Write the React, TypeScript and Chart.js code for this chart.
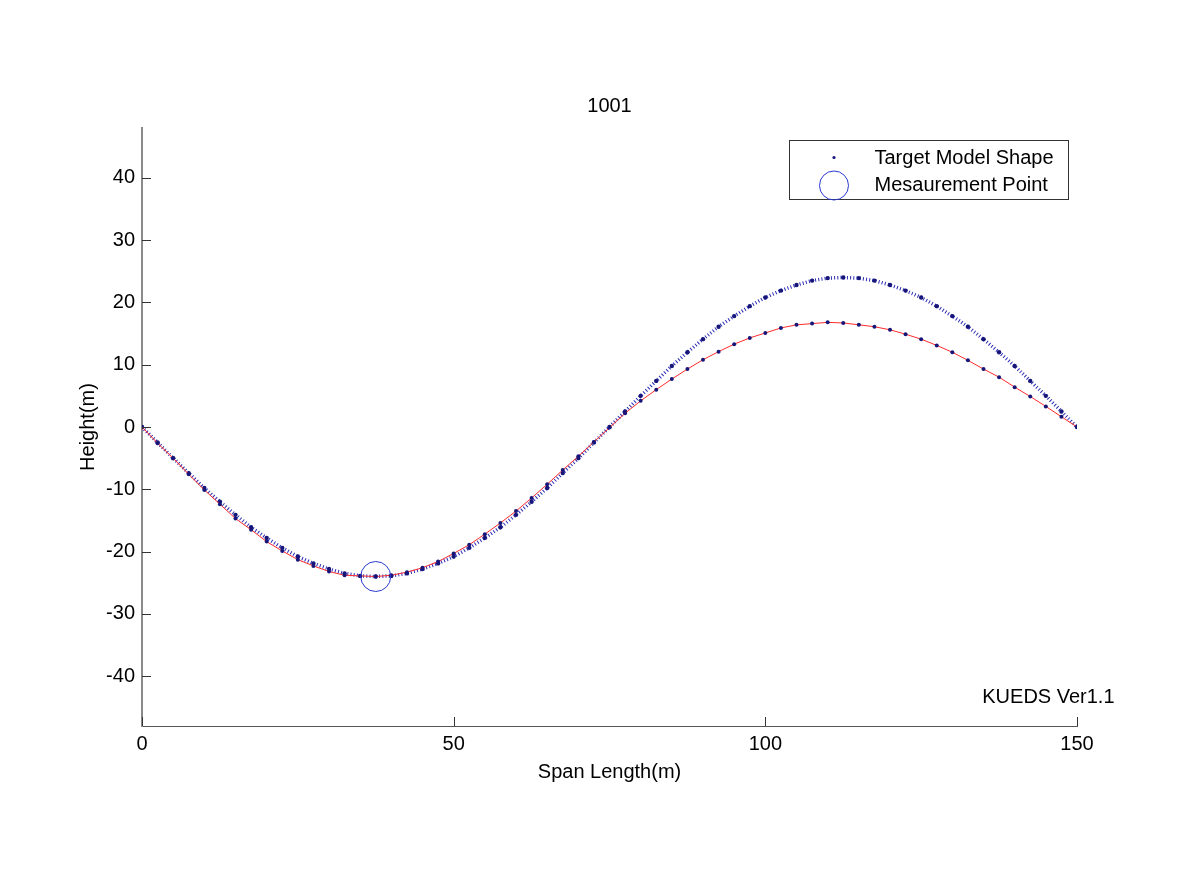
import React, { useEffect, useRef } from 'react';
import { Chart, registerables } from 'chart.js';

Chart.register(...registerables);

// ---- data ----
const spanPositions = [
  0, 2.5, 5, 7.5, 10, 12.5, 15, 17.5, 20, 22.5, 25, 27.5, 30, 32.5, 35, 37.5, 40, 42.5, 45, 47.5,
  50, 52.5, 55, 57.5, 60, 62.5, 65, 67.5, 70, 72.5, 75, 77.5, 80, 82.5, 85, 87.5, 90, 92.5, 95, 97.5,
  100, 102.5, 105, 107.5, 110, 112.5, 115, 117.5, 120, 122.5, 125, 127.5, 130, 132.5, 135, 137.5, 140, 142.5, 145, 147.5, 150,
];

// red solid curve (model shape)
const modelHeights = [
  0, -2.6, -5.0, -7.6, -10.1, -12.4, -14.7, -16.5, -18.4, -19.9, -21.3, -22.3, -23.2, -23.8, -23.9, -24.0, -23.8, -23.3, -22.6, -21.6,
  -20.3, -18.9, -17.2, -15.4, -13.5, -11.4, -9.2, -6.9, -4.7, -2.4, -0.1, 2.2, 4.2, 6.0, 7.7, 9.3, 10.8, 12.1, 13.3, 14.3,
  15.1, 15.9, 16.4, 16.6, 16.8, 16.7, 16.4, 16.1, 15.6, 14.9, 14.1, 13.1, 12.0, 10.7, 9.3, 8.0, 6.4, 4.9, 3.3, 1.65, 0,
];

// blue dotted curve (target shape)
const targetHeights = [
  0, -2.5, -5.0, -7.4, -9.8, -12.0, -14.1, -16.1, -17.8, -19.4, -20.8, -21.9, -22.8, -23.5, -23.9, -24.0, -23.9, -23.5, -22.8, -21.9,
  -20.8, -19.4, -17.8, -16.1, -14.1, -12.0, -9.8, -7.4, -5.0, -2.5, 0, 2.5, 5.0, 7.4, 9.8, 12.0, 14.1, 16.1, 17.8, 19.4,
  20.8, 21.9, 22.8, 23.5, 23.9, 24.0, 23.9, 23.5, 22.8, 21.9, 20.8, 19.4, 17.8, 16.1, 14.1, 12.0, 9.8, 7.4, 5.0, 2.5, 0,
];

const measurementSpan = [37.5];
const measurementHeight = [-24];

const xTicks = [0, 50, 100, 150];
const yTicks = [-40, -30, -20, -10, 0, 10, 20, 30, 40];

const chartTitle = '1001';
const xLabel = 'Span Length(m)';
const yLabel = 'Height(m)';
const legendLabels = ['Target Model Shape', 'Mesaurement Point'];
const versionLabel = 'KUEDS Ver1.1';

const FONT = "'Liberation Sans', Arial, Helvetica, sans-serif";
const FS = 20;
const DOT = '#16167a';
const CIRCLE = '#2a3ad0';

const decorPlugin = {
  id: 'decor',
  afterDraw(chart: any) {
    const { ctx, chartArea, scales } = chart;
    const xs = scales.x;
    const ys = scales.y;
    ctx.save();
    // inward tick marks
    ctx.strokeStyle = '#333333';
    ctx.lineWidth = 1;
    ctx.beginPath();
    for (const t of yTicks) {
      const py = Math.round(ys.getPixelForValue(t)) + 0.5;
      ctx.moveTo(chartArea.left, py);
      ctx.lineTo(chartArea.left + 9, py);
    }
    for (const t of xTicks) {
      const px = Math.round(xs.getPixelForValue(t)) + 0.5;
      ctx.moveTo(px, chartArea.bottom);
      ctx.lineTo(px, chartArea.bottom - 9);
    }
    ctx.stroke();

    // legend box
    const bw = 279;
    const bh = 59;
    const bx = Math.round(chartArea.right - 288) + 0.5;
    const by = Math.round(chartArea.top + 12) + 0.5;
    ctx.fillStyle = '#ffffff';
    ctx.fillRect(bx, by, bw, bh);
    ctx.strokeStyle = '#333333';
    ctx.lineWidth = 1;
    ctx.strokeRect(bx, by, bw, bh);

    const mx = bx + 44.5;
    const row1 = by + 17;
    const row2 = by + 45;
    ctx.fillStyle = DOT;
    ctx.beginPath();
    ctx.arc(mx, row1, 1.6, 0, Math.PI * 2);
    ctx.fill();
    ctx.strokeStyle = CIRCLE;
    ctx.beginPath();
    ctx.arc(mx, row2, 14.5, 0, Math.PI * 2);
    ctx.stroke();

    ctx.fillStyle = '#000000';
    ctx.font = `${FS}px ${FONT}`;
    ctx.textAlign = 'left';
    ctx.textBaseline = 'middle';
    ctx.fillText(legendLabels[0], bx + 85, row1 + 1);
    ctx.fillText(legendLabels[1], bx + 85, row2);

    // version text
    ctx.fillText(versionLabel, xs.getPixelForValue(134.8), ys.getPixelForValue(-43.4));
    ctx.restore();
  },
};

export default function App() {
  const canvasRef = useRef<HTMLCanvasElement | null>(null);

  useEffect(() => {
    const canvas = canvasRef.current;
    if (!canvas) return;
    const toPts = (ys: number[]) => spanPositions.map((x, i) => ({ x, y: ys[i] }));

    const chart = new Chart(canvas, {
      type: 'scatter',
      data: {
        datasets: [
          {
            label: 'Measurement',
            data: measurementSpan.map((x, i) => ({ x, y: measurementHeight[i] })),
            showLine: false,
            pointStyle: 'circle',
            pointRadius: 15,
            pointBorderWidth: 1,
            pointBorderColor: CIRCLE,
            pointBackgroundColor: 'rgba(0,0,0,0)',
            order: 0,
          },
          {
            label: 'Model',
            data: toPts(modelHeights),
            showLine: true,
            borderColor: '#ff2a2a',
            borderWidth: 1,
            pointRadius: 2,
            pointBorderWidth: 0,
            pointBackgroundColor: DOT,
            order: 1,
          },
          {
            label: 'Target',
            data: toPts(targetHeights),
            showLine: true,
            borderColor: '#2a2ab4',
            borderWidth: 3.5,
            borderDash: [1, 2.2],
            borderCapStyle: 'butt',
            pointRadius: 2.2,
            pointBorderWidth: 0,
            pointBackgroundColor: DOT,
            order: 2,
          },
        ],
      },
      options: {
        animation: false,
        responsive: false,
        maintainAspectRatio: false,
        layout: { padding: { left: 76, right: 100, top: 0, bottom: 106 } },
        plugins: {
          legend: { display: false },
          tooltip: { enabled: false },
          title: {
            display: true,
            text: chartTitle,
            fullSize: false,
            color: '#000000',
            font: { family: FONT, size: FS, weight: 'normal' },
            padding: { top: 94, bottom: 10 },
          },
        },
        scales: {
          x: {
            type: 'linear',
            min: 0,
            max: 150,
            afterBuildTicks: (scale: any) => {
              scale.ticks = xTicks.map((v) => ({ value: v }));
            },
            afterFit: (scale: any) => {
              scale.height = 58;
            },
            grid: { display: false, drawTicks: false },
            border: { display: true, color: '#555555', width: 1 },
            ticks: {
              color: '#000000',
              padding: 6,
              maxRotation: 0,
              autoSkip: false,
              font: { family: FONT, size: FS },
            },
            title: {
              display: true,
              text: xLabel,
              color: '#000000',
              padding: { top: 0, bottom: 0 },
              font: { family: FONT, size: FS },
            },
          },
          y: {
            type: 'linear',
            min: -48,
            max: 48,
            afterBuildTicks: (scale: any) => {
              scale.ticks = yTicks.map((v) => ({ value: v }));
            },
            afterFit: (scale: any) => {
              scale.width = 66;
            },
            grid: { display: false, drawTicks: false },
            border: { display: true, color: '#8a8a8a', width: 2 },
            ticks: {
              color: '#000000',
              padding: 7,
              autoSkip: false,
              font: { family: FONT, size: FS },
            },
            title: {
              display: true,
              text: yLabel,
              color: '#000000',
              padding: { top: 0, bottom: 0 },
              font: { family: FONT, size: FS },
            },
          },
        },
      },
      plugins: [decorPlugin],
    } as any);

    return () => chart.destroy();
  }, []);

  return (
    <div style={{ position: 'fixed', left: 0, top: 0, width: 1177, height: 890, background: '#ffffff' }}>
      <canvas ref={canvasRef} width={1177} height={890} style={{ display: 'block', width: 1177, height: 890 }} />
    </div>
  );
}
